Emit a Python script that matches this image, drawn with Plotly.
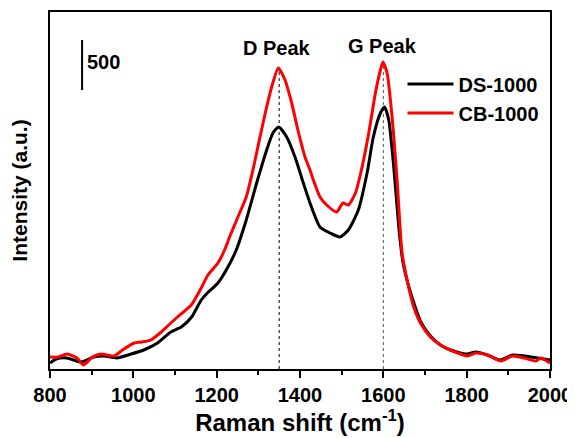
import plotly.graph_objects as go

# Raman spectra (intensity in arbitrary counts)
ds_shift = [800, 815, 840, 875, 905, 930, 960, 995, 1025, 1058, 1090, 1115, 1140, 1163,
            1180, 1203, 1227, 1247, 1271, 1296, 1320, 1335, 1349, 1368, 1388, 1408, 1424,
            1448, 1472, 1496, 1516, 1540, 1561, 1576, 1593, 1603, 1613, 1625, 1637, 1647,
            1660, 1675, 1690, 1713, 1737, 1761, 1800, 1822, 1850, 1880, 1910, 1940, 1970, 2000]
ds_int = [60, 100, 110, 70, 120, 130, 110, 150, 190, 260, 370, 420, 520, 690,
          770, 860, 1020, 1190, 1490, 1860, 2190, 2360, 2420, 2320, 2120, 1860, 1660,
          1420, 1360, 1320, 1390, 1590, 1960, 2320, 2560, 2620, 2490, 2020, 1420, 1070,
          840, 640, 470, 330, 240, 190, 150, 170, 140, 90, 140, 130, 110, 90]

cb_shift = [800, 820, 841, 865, 880, 902, 922, 954, 974, 1002, 1020, 1042, 1067, 1085,
            1106, 1139, 1163, 1179, 1203, 1219, 1231, 1251, 1271, 1287, 1304, 1320, 1332,
            1348, 1364, 1380, 1395, 1412, 1424, 1432, 1448, 1464, 1488, 1503, 1516, 1533,
            1549, 1565, 1581, 1593, 1599, 1609, 1621, 1633, 1645, 1657, 1673, 1689, 1713,
            1737, 1761, 1802, 1822, 1850, 1882, 1910, 1938, 1966, 1978, 2000]
cb_int = [120, 120, 150, 110, 40, 120, 150, 130, 190, 260, 270, 290, 370, 440,
          520, 640, 810, 940, 1060, 1190, 1320, 1520, 1720, 1990, 2320, 2620, 2820,
          3010, 2890, 2660, 2390, 2120, 1990, 1890, 1720, 1640, 1570, 1660, 1640, 1760,
          2020, 2360, 2760, 2990, 3070, 2960, 2520, 1890, 1160, 890, 620, 460, 320,
          240, 190, 130, 160, 140, 80, 130, 110, 80, 110, 60]

peak_pos = [1350, 1600]
peak_top = [3010, 3070]
peak_names = ["D Peak", "G Peak"]
peak_label_x = [1345, 1598]
peak_label_y = [3215, 3235]

FONT = "Arial, Liberation Sans, sans-serif"

fig = go.Figure()
fig.add_trace(go.Scatter(x=ds_shift, y=ds_int, mode="lines", name="DS-1000",
                         line={"color": "black", "width": 3, "shape": "spline", "smoothing": 0.6}))
fig.add_trace(go.Scatter(x=cb_shift, y=cb_int, mode="lines", name="CB-1000",
                         line={"color": "#ff0000", "width": 3, "shape": "spline", "smoothing": 0.6}))

for pos, top, name, lx, ly, col in zip(peak_pos, peak_top, peak_names, peak_label_x,
                                       peak_label_y, ["black", "#555555"]):
    fig.add_shape(type="line", x0=pos, x1=pos, y0=0, y1=top, layer="below",
                  line={"color": col, "width": 1, "dash": "dot"})
    fig.add_annotation(x=lx, y=ly, text=name, showarrow=False,
                       font={"family": FONT, "size": 20, "color": "black", "weight": "bold"})

# 500-count scale bar
fig.add_shape(type="line", x0=877, x1=877, y0=2790, y1=3290, line={"color": "black", "width": 2})
fig.add_annotation(x=885, y=3070, text="500", showarrow=False, xanchor="left",
                   font={"family": FONT, "size": 20, "color": "black", "weight": "bold"})

# the page body keeps its default 8px margin, so the figure is 8px smaller than the window
fig.update_layout(
    width=567, height=430,
    margin={"l": 42, "r": 25, "t": 4, "b": 69},
    plot_bgcolor="white", paper_bgcolor="white",
    font={"family": FONT, "color": "black"},
    showlegend=True,
    legend={"x": 0.705, "y": 0.853, "xanchor": "left", "yanchor": "top",
            "bgcolor": "rgba(0,0,0,0)", "tracegroupgap": 0, "itemwidth": 46,
            "font": {"family": FONT, "size": 20, "color": "black", "weight": "bold"}},
)
fig.update_xaxes(
    range=[800, 2000], showline=True, linecolor="black", linewidth=2, mirror=True,
    showgrid=False, zeroline=False, automargin=False,
    tickmode="linear", tick0=800, dtick=200, ticks="outside", ticklen=7, tickwidth=2,
    tickcolor="black",
    minor={"dtick": 100, "ticks": "outside", "ticklen": 4, "tickwidth": 2, "tickcolor": "black"},
    tickfont={"family": FONT, "size": 20, "color": "black", "weight": "bold"},
    title={"text": "Raman shift (cm<sup>-1</sup>)", "standoff": 4,
           "font": {"family": FONT, "size": 24, "color": "black", "weight": "bold"}},
)
fig.update_yaxes(
    range=[0, 3570], showline=True, linecolor="black", linewidth=2, mirror=True,
    showgrid=False, zeroline=False, showticklabels=False, ticks="", automargin=False,
    title={"text": "Intensity (a.u.)", "standoff": 18,
           "font": {"family": FONT, "size": 21, "color": "black", "weight": "bold"}},
)

fig.write_html("out.html")
